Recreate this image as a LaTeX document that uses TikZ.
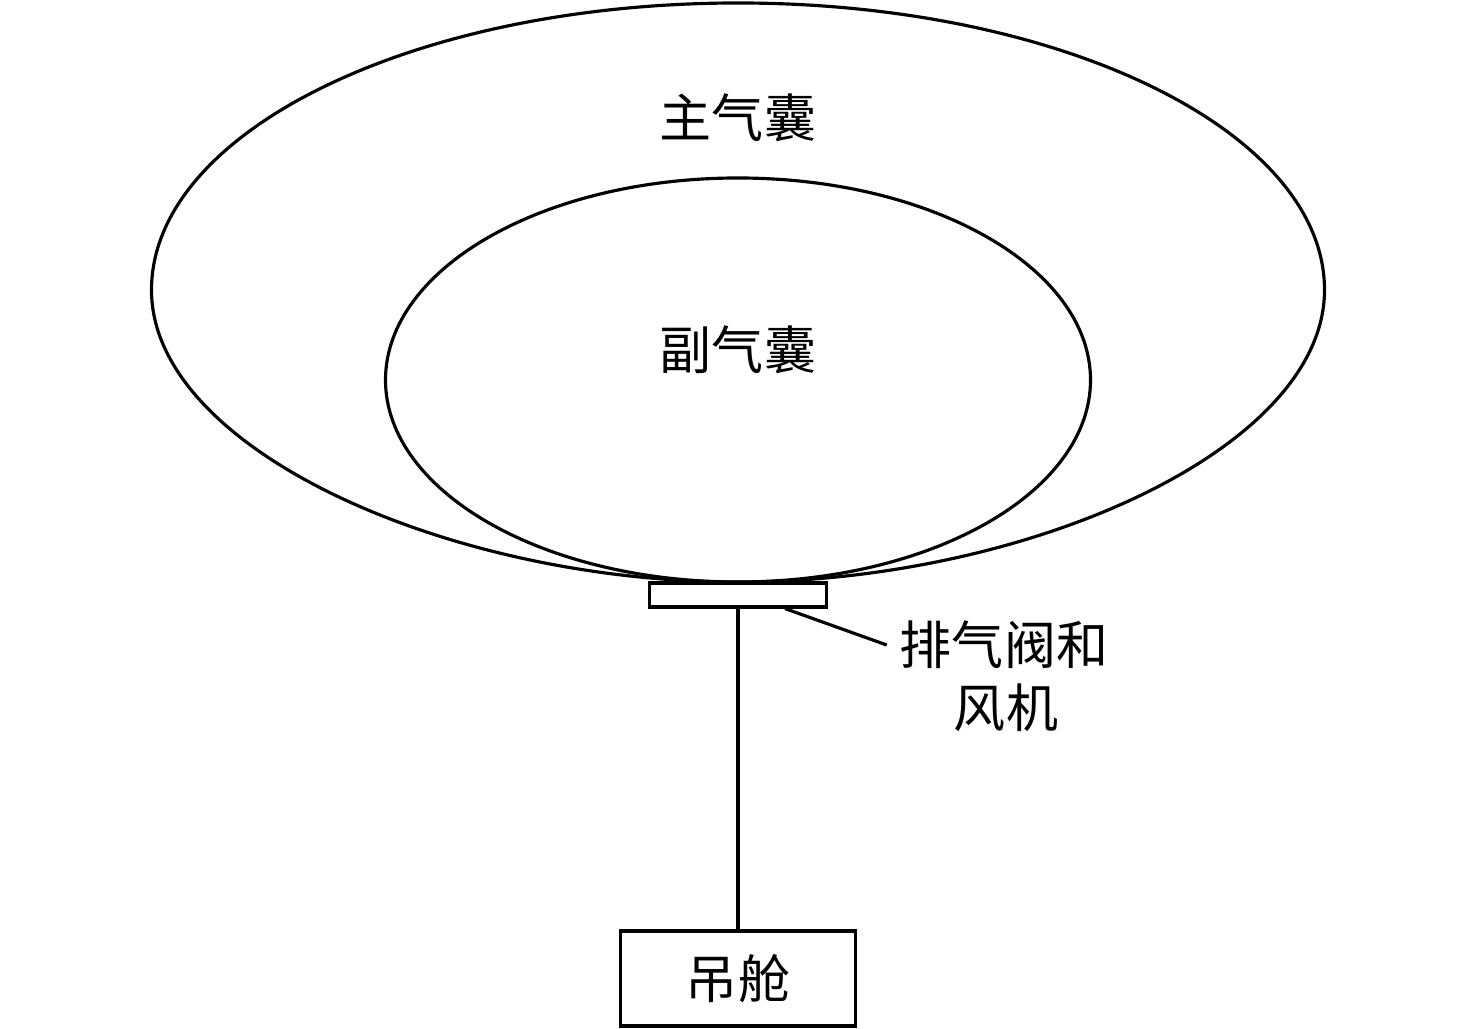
\documentclass[tikz,border=0pt]{standalone}
\usepackage{fontspec}
\setmainfont{Noto Sans CJK SC}
\tikzset{
  box/.style={draw, inner sep=0pt, minimum width=#1},
}
\begin{document}
\begin{tikzpicture}[every node/.style={font=\fontsize{14.8}{18}\selectfont}, line width=0.9pt]
   \useasboundingbox (-7.38,0) rectangle (7.38,10.28);
   % main envelope
   \draw (-5.865,7.38) arc (180:0:5.865 and 2.87)
         .. controls (5.865,5.78) and (2.88,4.46) .. (0,4.46)
         .. controls (-2.88,4.46) and (-5.865,5.78) .. (-5.865,7.38) -- cycle;
   \node (main) at (0,9.10) {主气囊};
   % ballonet
   \draw (0,6.48) ellipse (3.525 and 2.02);
   \node (sub) at (0,6.78) {副气囊};
   % valve, gondola
   \node [box=1.77cm, minimum height=0.24cm] (valve) at (0,4.33) {};
   \node [box=2.35cm, minimum height=0.95cm] (gondola) at (0,0.495) {吊舱};
   \draw (valve.south) -- (gondola.north);
   \node (lbl1) at (2.66,3.83) {排气阀和};
   \node (lbl2) at (2.68,3.20) {风机};
   \draw ([xshift=4.7mm]valve.south) -- (lbl1.west);
  \end{tikzpicture}
\end{document}
